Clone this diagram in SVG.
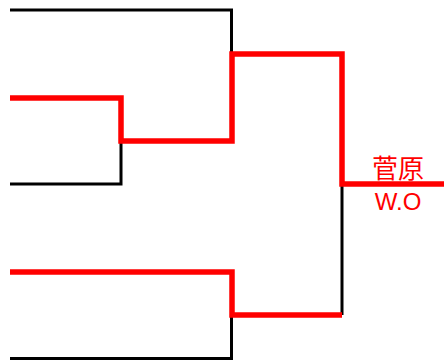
<svg xmlns="http://www.w3.org/2000/svg" width="444" height="361" viewBox="0 0 444 361">
<style>
.lose{fill:none;stroke:#000;stroke-width:3;stroke-linejoin:miter;stroke-linecap:butt}
.win{fill:none;stroke:#ff0000;stroke-width:5.5;stroke-linejoin:miter;stroke-linecap:butt}
.lbl{fill:#ff0000;text-anchor:middle}
</style>
<rect width="444" height="361" fill="#fff"/>
<g id="connectors">
<path class="lose" d="M10,10 H231.5 V56"/>
<path class="lose" d="M10,184 H121 V141"/>
<path class="lose" d="M231.5,315 V358.5 H10"/>
<path class="lose" d="M342,184 V315"/>
<path class="win" d="M10,98 H121 V141 H232 V54 H342 V184 H444"/>
<path class="win" d="M10,272 H232 V315 H342"/>
</g>
<g id="winner">
<text class="lbl" x="398" y="178" font-family="'Noto Sans CJK JP', 'Noto Sans CJK SC', sans-serif" font-size="26">菅原</text>
<text class="lbl" x="398" y="210" font-family="'Liberation Sans', Arial, sans-serif" font-size="24">W.O</text>
</g>
</svg>
